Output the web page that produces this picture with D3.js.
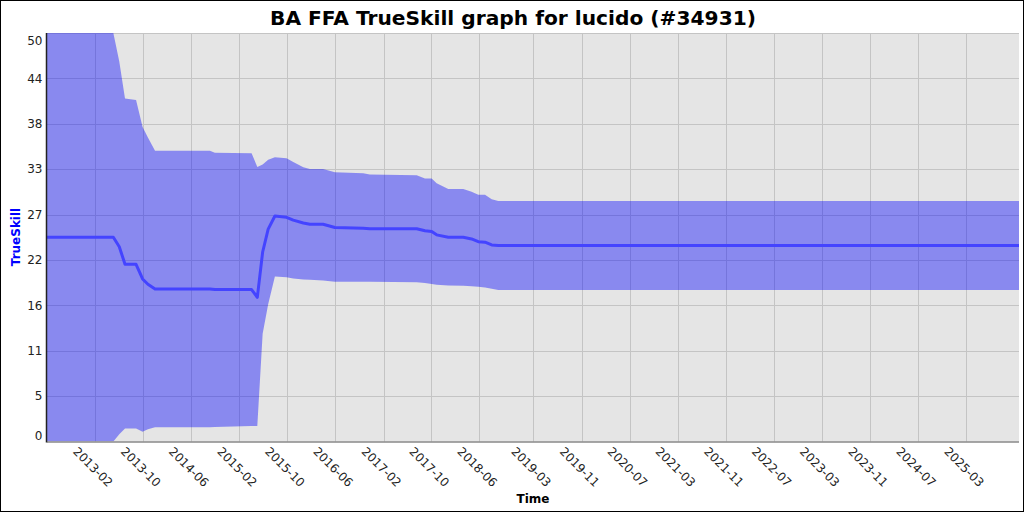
<!DOCTYPE html>
<html>
<head>
<meta charset="utf-8">
<script src="https://cdn.jsdelivr.net/npm/d3@7"></script>
<style>
  html, body { margin: 0; padding: 0; background: #fff; }
  svg { display: block; font-family: "DejaVu Sans", sans-serif; }
</style>
</head>
<body>
<svg id="chart" width="1024" height="512"></svg>
<script>
// ---- data ----
const dates = [
  "2012-06-03","2013-05-05","2013-06-04","2013-07-03","2013-08-28","2013-09-30",
  "2013-10-27","2013-12-02","2014-09-06","2014-10-01","2015-04-05","2015-05-04",
  "2015-05-31","2015-06-28","2015-08-01","2015-09-29","2015-11-02","2015-12-23",
  "2016-01-25","2016-04-01","2016-05-31","2016-10-21","2016-11-24","2017-07-19",
  "2017-08-30","2017-10-03","2017-10-28","2017-12-26","2018-03-12","2018-04-23",
  "2018-05-27","2018-06-30","2018-08-03","2018-09-05","2025-11-24"
];
const meanSkill = [
  25.0, 25.0, 23.85, 21.7, 21.7, 19.9,
  19.25, 18.67, 18.67, 18.6, 18.6, 17.65,
  23.2, 26.0, 27.6, 27.45, 27.1, 26.75,
  26.6, 26.6, 26.2, 26.1, 26.05, 26.05,
  25.8, 25.7, 25.3, 25.0, 25.0, 24.8,
  24.46, 24.4, 24.06, 24.0, 24.0
];
const upperSkill = [
  50.0, 50.0, 46.5, 42.0, 41.8, 38.5,
  37.2, 35.6, 35.6, 35.35, 35.3, 33.6,
  33.9, 34.5, 34.8, 34.67, 34.2, 33.57,
  33.36, 33.36, 32.95, 32.83, 32.7, 32.6,
  32.2, 32.2, 31.6, 30.9, 30.9, 30.58,
  30.2, 30.2, 29.65, 29.45, 29.45
];
const lowerSkill = [
  0.0, 0.0, 0.9, 1.6, 1.6, 1.2,
  1.5, 1.75, 1.75, 1.8, 1.9, 1.9,
  13.2, 16.8, 20.2, 20.1, 19.95, 19.85,
  19.8, 19.7, 19.57, 19.55, 19.55, 19.5,
  19.4, 19.3, 19.2, 19.1, 19.08, 19.0,
  18.96, 18.85, 18.7, 18.55, 18.55
];
const xTickDates = [
  "2013-02-01","2013-10-01","2014-06-01","2015-02-01","2015-10-01","2016-06-01",
  "2017-02-01","2017-10-01","2018-06-01","2019-03-01","2019-11-01","2020-07-01",
  "2021-03-01","2021-11-01","2022-07-01","2023-03-01","2023-11-01","2024-07-01",
  "2025-03-01"
];
const yTickValues = [0, 50/9, 100/9, 150/9, 200/9, 250/9, 300/9, 350/9, 400/9, 50];
const yTickLabels = ["0","5","11","16","22","27","33","38","44","50"];
const titleText = "BA FFA TrueSkill graph for lucido (#34931)";
const yAxisTitle = "TrueSkill";
const xAxisTitle = "Time";

// ---- build ----
const parse = d3.timeParse("%Y-%m-%d");
const rows = dates.map((d, i) => ({ t: parse(d), m: meanSkill[i], hi: upperSkill[i], lo: lowerSkill[i] }));
const xTicks = xTickDates.map(parse);

const W = 1024, H = 512;
const plot = { left: 47, right: 1019, top: 33, bottom: 441.6 };

const svg = d3.select("#chart");

const x = d3.scaleTime()
  .domain([parse(dates[0]), parse(dates[dates.length - 1])])
  .range([plot.left, plot.right]);
const y = d3.scaleLinear().domain([0, 50]).range([plot.bottom, plot.top]);

// outer border
svg.append("rect").attr("x", 0.5).attr("y", 0.5).attr("width", W - 1).attr("height", H - 1)
  .attr("fill", "#fff").attr("stroke", "#000").attr("stroke-width", 1);

// title
svg.append("text").attr("x", 513).attr("y", 25).attr("text-anchor", "middle")
  .attr("font-size", 20.2).attr("font-weight", "bold").attr("fill", "#000").text(titleText);

// plot background
svg.append("rect").attr("x", plot.left).attr("y", plot.top)
  .attr("width", plot.right - plot.left).attr("height", plot.bottom - plot.top)
  .attr("fill", "#e5e5e5");

svg.append("clipPath").attr("id", "clip").append("rect")
  .attr("x", plot.left).attr("y", plot.top)
  .attr("width", plot.right - plot.left).attr("height", plot.bottom - plot.top);

// gridlines
const grid = svg.append("g").attr("stroke", "#c4c4c4").attr("stroke-width", 1);
grid.selectAll("line.v").data(xTicks).join("line").attr("class", "v")
  .attr("x1", d => Math.round(x(d)) + 0.5).attr("x2", d => Math.round(x(d)) + 0.5)
  .attr("y1", plot.top).attr("y2", plot.bottom);
grid.selectAll("line.h").data(yTickValues.slice(1)).join("line").attr("class", "h")
  .attr("x1", plot.left).attr("x2", plot.right)
  .attr("y1", d => Math.round(y(d)) + 0.5).attr("y2", d => Math.round(y(d)) + 0.5);

// band
const area = d3.area().x(d => x(d.t)).y0(d => y(d.lo)).y1(d => y(d.hi));
svg.append("path").datum(rows).attr("clip-path", "url(#clip)")
  .attr("d", area).attr("fill", "rgb(0,0,255)").attr("fill-opacity", 0.4);

// mean line
const line = d3.line().x(d => x(d.t)).y(d => y(d.m));
svg.append("path").datum(rows).attr("clip-path", "url(#clip)")
  .attr("d", line).attr("fill", "none").attr("stroke", "#4444ff")
  .attr("stroke-width", 3).attr("stroke-linejoin", "round");

// axes lines
svg.append("line").attr("x1", plot.left).attr("x2", plot.right)
  .attr("y1", plot.bottom + 0.5).attr("y2", plot.bottom + 0.5)
  .attr("stroke", "#888").attr("stroke-width", 1.5);
svg.append("line").attr("x1", plot.left - 0.5).attr("x2", plot.left - 0.5)
  .attr("y1", plot.top).attr("y2", plot.bottom + 1)
  .attr("stroke", "#222").attr("stroke-width", 1.5);

// y tick labels
svg.append("g").selectAll("text").data(yTickValues).join("text")
  .attr("x", 42.5)
  .attr("y", (d, i) => y(d) + (i === 0 ? -5.6 : (i === yTickValues.length - 1 ? 8 : 0)))
  .attr("dy", "0.35em").attr("text-anchor", "end")
  .attr("font-size", 12).attr("fill", "#222")
  .text((d, i) => yTickLabels[i]);

// x tick labels (rotated 45deg)
svg.append("g").selectAll("text").data(xTicks).join("text")
  .attr("transform", d => `translate(${x(d) - 2},467) rotate(45)`)
  .attr("text-anchor", "middle").attr("dy", "0.35em")
  .attr("font-size", 12).attr("fill", "#222")
  .text(d => d3.timeFormat("%Y-%m")(d));

// axis titles
svg.append("text").attr("transform", "translate(20,237) rotate(-90)")
  .attr("text-anchor", "middle").attr("font-size", 12).attr("font-weight", "bold")
  .attr("fill", "#0000ff").text(yAxisTitle);
svg.append("text").attr("x", 533).attr("y", 503).attr("text-anchor", "middle")
  .attr("font-size", 12).attr("font-weight", "bold").attr("fill", "#000").text(xAxisTitle);
</script>
</body>
</html>
